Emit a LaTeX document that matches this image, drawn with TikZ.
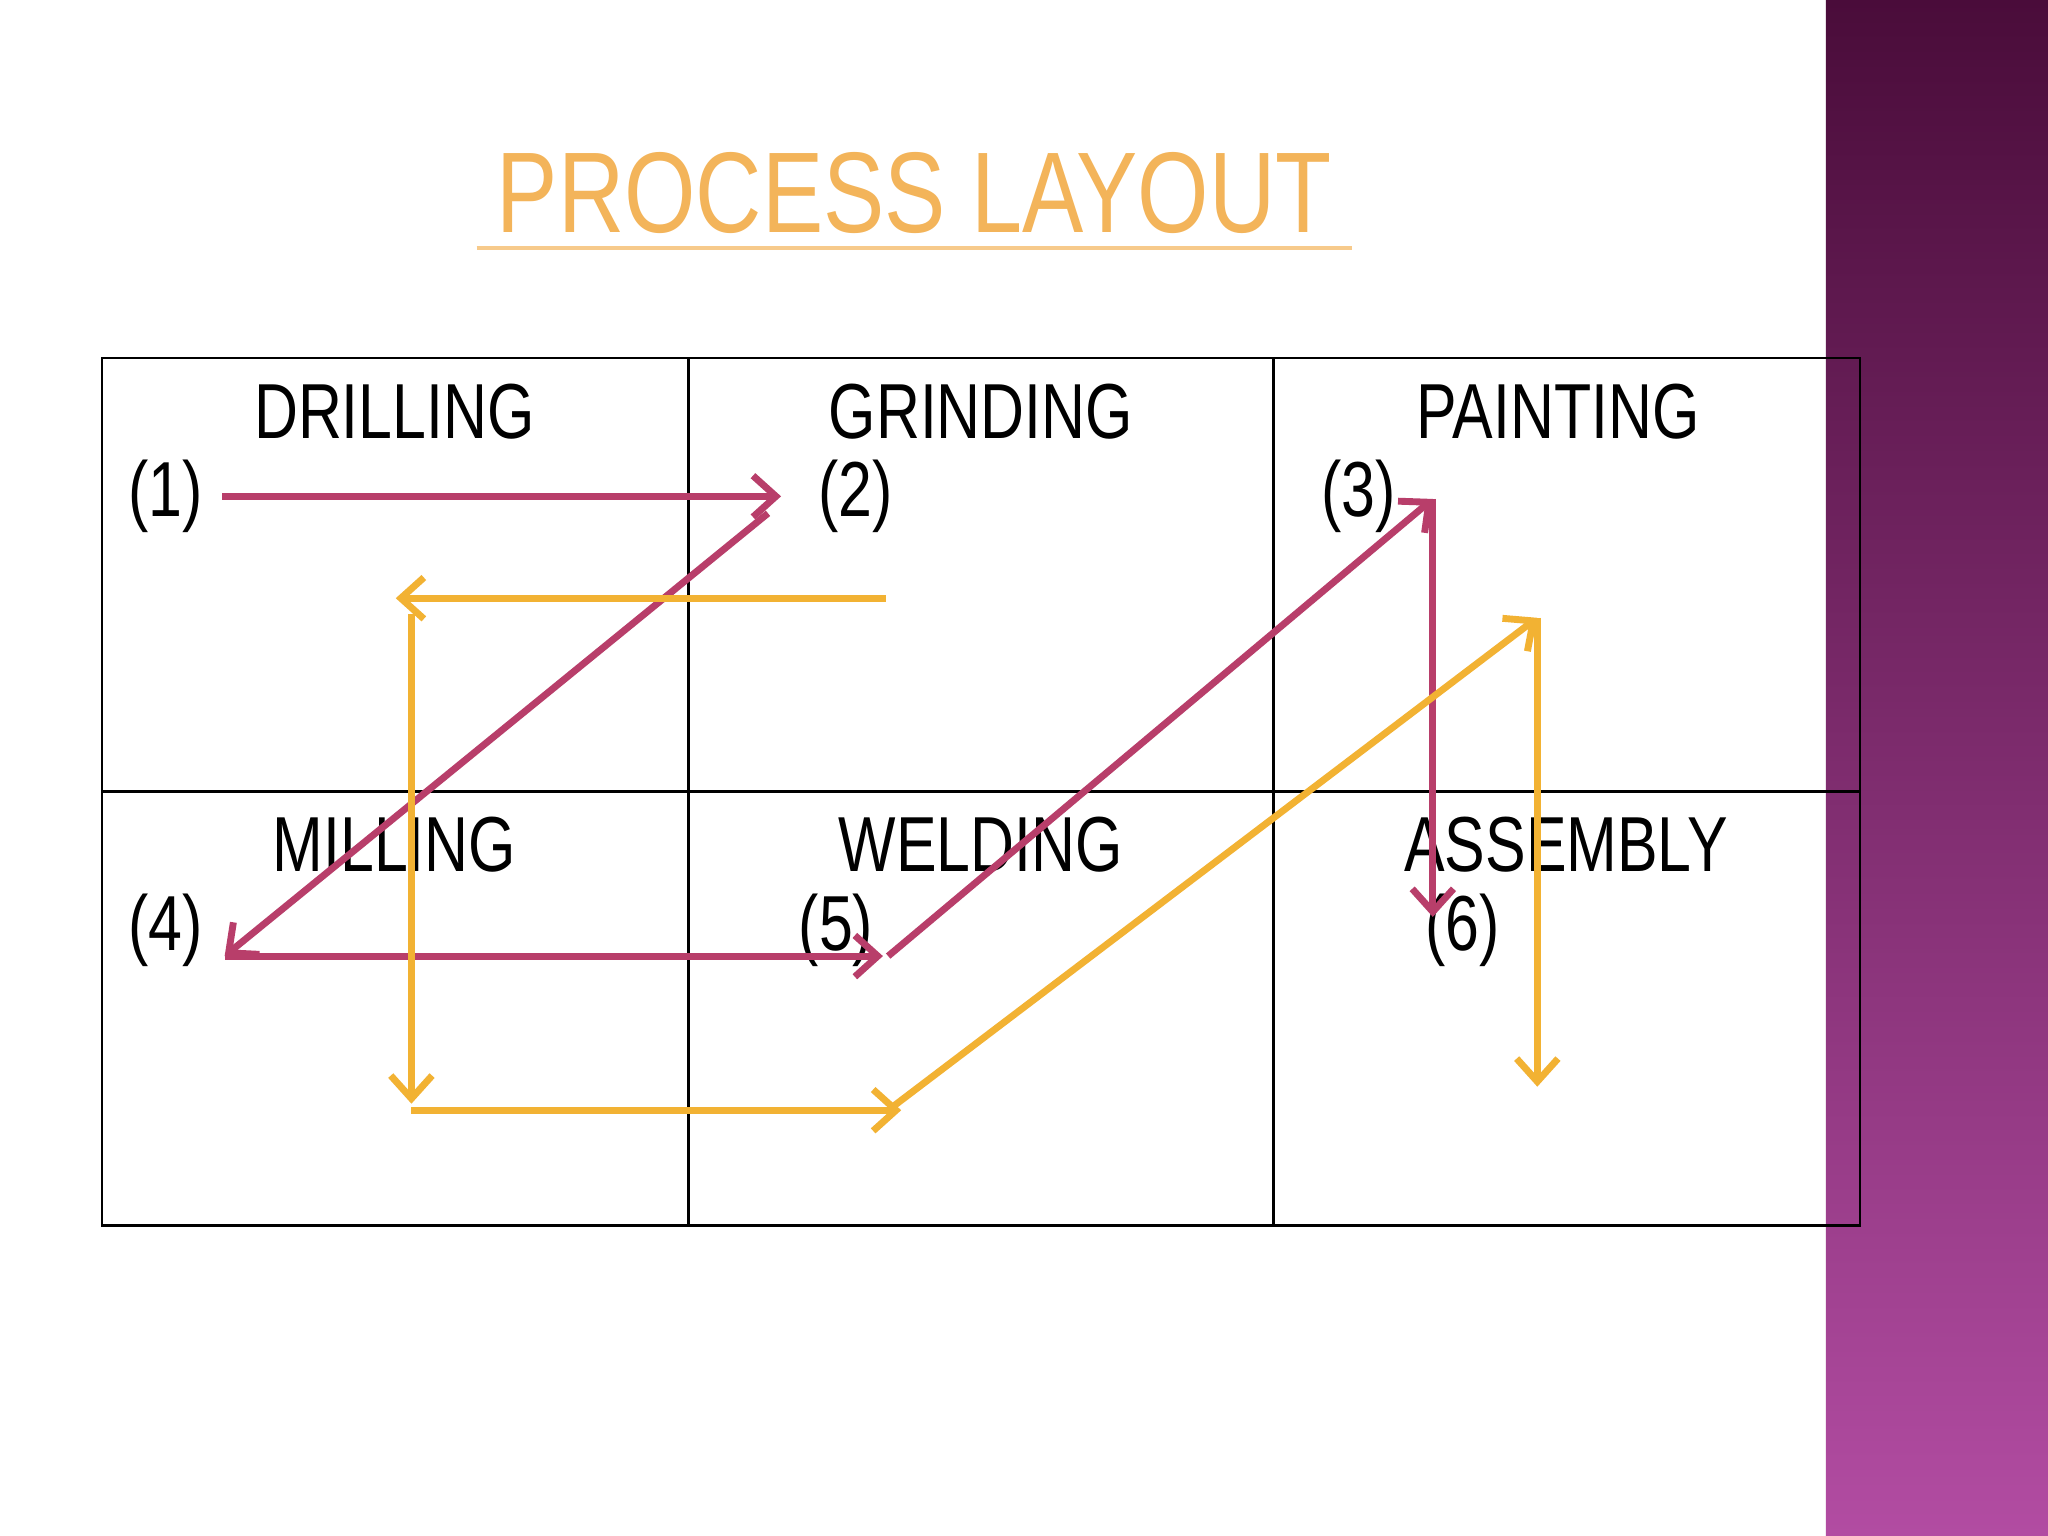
\documentclass[tikz,border=0pt]{standalone}
\usepackage{fontspec}
\usetikzlibrary{arrows.meta}
\setmainfont{Liberation Sans}
\definecolor{mag}{HTML}{B83E6A}
\definecolor{org}{HTML}{F2B233}
\definecolor{ttl}{HTML}{F3B45A}
\definecolor{ptop}{HTML}{4A0C3A}
\definecolor{pbot}{HTML}{B24CA2}
\newcommand{\cond}[1]{\scalebox{0.78}[1]{#1}}
\begin{document}
\begin{tikzpicture}[x=0.02cm,y=-0.02cm,
 lbl/.style={font=\fontsize{34}{38}\selectfont},
 marr/.style={draw=mag,line width=3pt,-{Straight Barb[length=10pt,width=18pt,line width=3pt]}},
 oarr/.style={draw=org,line width=3pt,-{Straight Barb[length=10pt,width=18pt,line width=3pt]}}]
\useasboundingbox (0,0) rectangle (1568,1176);
\fill[white] (0,0) rectangle (1568,1176);
\shade[top color=ptop,bottom color=pbot] (1398,0) rectangle (1568,1176);
\node[font=\fontsize{50}{56}\selectfont,text=ttl] (title) at (700,148) {\scalebox{0.8}[1]{PROCESS LAYOUT}};
\draw[ttl!70,line width=2pt] (365,190) -- (1035,190);
\draw[line width=1.2pt] (78,274) rectangle (1424,938);
\draw[line width=1.2pt] (527,274) -- (527,938) (975,274) -- (975,938) (78,606) -- (1424,606);
\node[lbl] (l1) at (302,315) {\cond{DRILLING}};
\node[lbl] (l2) at (751,315) {\cond{GRINDING}};
\node[lbl] (l3) at (1193,315) {\cond{PAINTING}};
\node[lbl] (l4) at (302,647) {\cond{MILLING}};
\node[lbl] (l5) at (751,647) {\cond{WELDING}};
\node[lbl] (l6) at (1199,647) {\cond{ASSEMBLY}};
\node[lbl] (n1) at (127,380) {\cond{(1)}};
\node[lbl] (n2) at (655,380) {\cond{(2)}};
\node[lbl] (n3) at (1040,380) {\cond{(3)}};
\node[lbl] (n4) at (127,712) {\cond{(4)}};
\node[lbl] (n5) at (640,712) {\cond{(5)}};
\node[lbl] (n6) at (1120,712) {\cond{(6)}};
\coordinate (a1) at (170,380); \coordinate (a2) at (598,380);
\coordinate (b1) at (588,393); \coordinate (b2) at (172,732);
\coordinate (c2) at (676,732);
\coordinate (d1) at (680,732); \coordinate (d2) at (1097,382);
\coordinate (e2) at (1097,702);
\coordinate (f1) at (678,458); \coordinate (f2) at (303,458);
\coordinate (g1) at (315,470); \coordinate (g2) at (315,845);
\coordinate (h1) at (315,850); \coordinate (h2) at (690,850);
\coordinate (i1) at (680,850); \coordinate (i2) at (1177,473);
\coordinate (j2) at (1177,832);
\draw[marr] (a1) -- (a2);
\draw[marr] (b1) -- (b2);
\draw[marr] (b2) -- (c2);
\draw[marr] (d1) -- (d2);
\draw[marr] (d2) -- (e2);
\draw[oarr] (f1) -- (f2);
\draw[oarr] (g1) -- (g2);
\draw[oarr] (h1) -- (h2);
\draw[oarr] (i1) -- (i2);
\draw[oarr] (i2) -- (j2);
\end{tikzpicture}
\end{document}
